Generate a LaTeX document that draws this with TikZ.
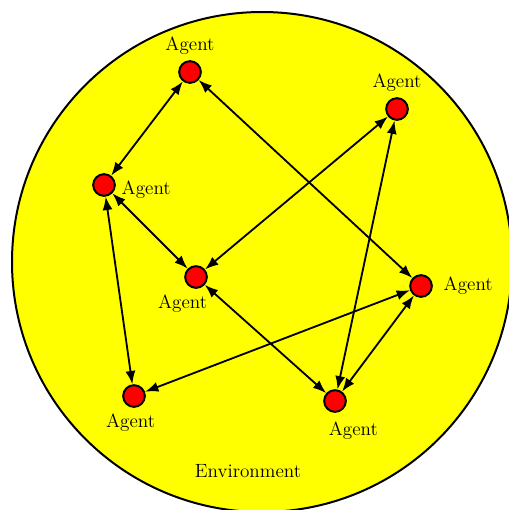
\documentclass[tikz,border=0pt]{standalone}
\usepackage{tikz}
\usetikzlibrary{positioning,arrows.meta,calc}
\definecolor{envyellow}{RGB}{255,255,0}
\definecolor{agentred}{RGB}{255,0,0}

\begin{document}
\begin{tikzpicture}[x=0.6pt,y=-0.6pt,every node/.style={font=\fontsize{11.5}{13}\selectfont},
  agent/.style={circle,draw,line width=1.2pt,fill=agentred,minimum size=13pt,inner sep=0pt},
  link/.style={{Latex[length=8pt,width=6pt]}-{Latex[length=8pt,width=6pt]},line width=1.1pt}]
\useasboundingbox (0,0) rectangle (509,510);
\begin{scope}
\clip (0,0) rectangle (509,510);
\draw[fill=envyellow,line width=1.2pt] (262,262) circle (250);
\end{scope}
\node[agent,label={above:Agent}] (a1) at (190,72) {};
\node[agent,label={above:Agent}] (a2) at (397,109) {};
\node[agent,label={[yshift=-3pt]right:Agent}] (a3) at (104,185) {};
\node[agent,label={[xshift=-8pt]below:Agent}] (a4) at (196,277) {};
\node[agent,label={[xshift=3pt]right:Agent}] (a5) at (421,286) {};
\node[agent,label={[xshift=-2pt]below:Agent}] (a6) at (134,396) {};
\node[agent,label={[xshift=11pt,yshift=-2pt]below:Agent}] (a7) at (335,401) {};
\node (env) at (248,471) {Environment};
\draw[link] (a1) -- (a3);
\draw[link] (a1) -- (a5);
\draw[link] (a2) -- (a4);
\draw[link] (a2) -- (a7);
\draw[link] (a3) -- (a4);
\draw[link] (a3) -- (a6);
\draw[link] (a4) -- (a7);
\draw[link] (a5) -- (a6);
\draw[link] (a5) -- (a7);
\end{tikzpicture}
\end{document}
